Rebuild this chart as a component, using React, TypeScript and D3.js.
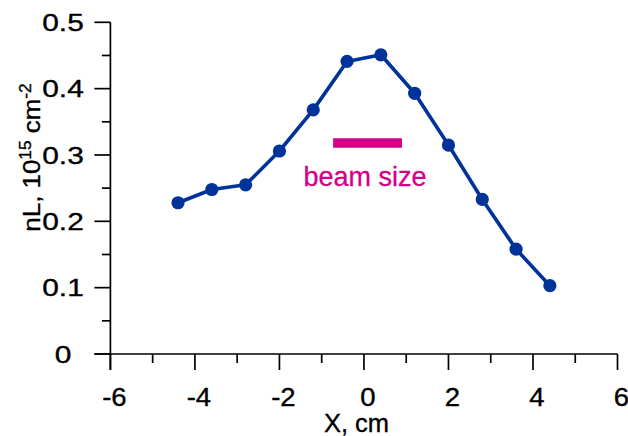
import React from "react";
import * as d3 from "d3";

// Column density profile across the cell
const positions = [-4.4, -3.6, -2.8, -2.0, -1.2, -0.4, 0.4, 1.2, 2.0, 2.8, 3.6, 4.4];
const densities = [0.228, 0.248, 0.255, 0.306, 0.368, 0.441, 0.451, 0.393, 0.315, 0.233, 0.158, 0.103];

// Beam extent marker
const beamSpan = [-0.73, 0.9];
const beamLevel = 0.318;
const beamLabel = "beam size";

const xTicks = [-6, -4, -2, 0, 2, 4, 6];
const xMinorTicks = [-5, -3, -1, 1, 3, 5];
const yTicks = [0, 0.1, 0.2, 0.3, 0.4, 0.5];
const yMinorTicks = [0.05, 0.15, 0.25, 0.35, 0.45];

const W = 628;
const H = 436;
const BLUE = "#003399";
const MAGENTA = "#d4008a";
const FONT = "'Liberation Sans', Arial, Helvetica, sans-serif";

export default function App() {
  const x = d3.scaleLinear().domain([-6, 6]).range([110.4, 617.5]);
  const y = d3.scaleLinear().domain([0, 0.5]).range([354, 22.3]);

  const pts = positions.map((p, i) => [p, densities[i]] as [number, number]);
  const line = d3
    .line<[number, number]>()
    .x((d) => x(d[0]))
    .y((d) => y(d[1]));

  const x0 = x(-6);
  const y0 = y(0);

  const textStroke = { stroke: "#000", strokeWidth: 0.35 };

  return (
    <svg
      width={W}
      height={H}
      viewBox={`0 0 ${W} ${H}`}
      style={{ position: "absolute", left: 0, top: 0, background: "#fff" }}
      fontFamily={FONT}
    >
      <rect width={W} height={H} fill="#fff" />

      {/* axes */}
      <g stroke="#000" strokeWidth={1.7} fill="none">
        <line x1={x0} x2={x0} y1={y(0.5)} y2={y0 + 16} />
        <line x1={x0 - 16} x2={x(6)} y1={y0} y2={y0} />
        {yTicks.map((t) => (
          <line key={"yt" + t} x1={x0 - 16} x2={x0} y1={y(t)} y2={y(t)} />
        ))}
        {yMinorTicks.map((t) => (
          <line key={"ym" + t} x1={x0 - 8.5} x2={x0} y1={y(t)} y2={y(t)} />
        ))}
        {xTicks.map((t) => (
          <line key={"xt" + t} x1={x(t)} x2={x(t)} y1={y0} y2={y0 + 16} />
        ))}
        {xMinorTicks.map((t) => (
          <line key={"xm" + t} x1={x(t)} x2={x(t)} y1={y0} y2={y0 + 9} />
        ))}
      </g>

      {/* y tick labels */}
      {yTicks.map((t) => (
        <g key={"yl" + t} transform={`translate(63,${y(t) + 8.8}) scale(1.22,1)`}>
          <text textAnchor="middle" fontSize={24.5} fill="#000" {...textStroke}>
            {t === 0 ? "0" : d3.format(".1f")(t)}
          </text>
        </g>
      ))}

      {/* x tick labels */}
      {xTicks.map((t) => (
        <g key={"xl" + t} transform={`translate(${x(t) + 4},405.5) scale(1.08,1)`}>
          <text textAnchor="middle" fontSize={25.5} fill="#000" {...textStroke}>
            {t < 0 ? "-" + Math.abs(t) : String(t)}
          </text>
        </g>
      ))}

      {/* axis titles */}
      <text x={356.5} y={432} textAnchor="middle" fontSize={25.5} fill="#000" {...textStroke}>
        X, cm
      </text>
      <g transform="translate(40,157.5) rotate(-90) scale(1.08,1)">
        <text textAnchor="middle" fontSize={24} fill="#000" {...textStroke}>
          nL, 10
          <tspan fontSize={16} dy={-9}>15</tspan>
          <tspan dy={9}> cm</tspan>
          <tspan fontSize={16} dy={-9}>-2</tspan>
        </text>
      </g>

      {/* beam size marker */}
      <line
        x1={x(beamSpan[0])}
        x2={x(beamSpan[1])}
        y1={y(beamLevel)}
        y2={y(beamLevel)}
        stroke={MAGENTA}
        strokeWidth={9.5}
      />
      <text x={365} y={186} textAnchor="middle" fontSize={27} fill={MAGENTA} stroke={MAGENTA} strokeWidth={0.3}>
        {beamLabel}
      </text>

      {/* data */}
      <path d={line(pts) ?? ""} fill="none" stroke={BLUE} strokeWidth={3.6} strokeLinejoin="round" />
      {pts.map((d, i) => (
        <circle key={"p" + i} cx={x(d[0])} cy={y(d[1])} r={6.6} fill={BLUE} />
      ))}
    </svg>
  );
}
